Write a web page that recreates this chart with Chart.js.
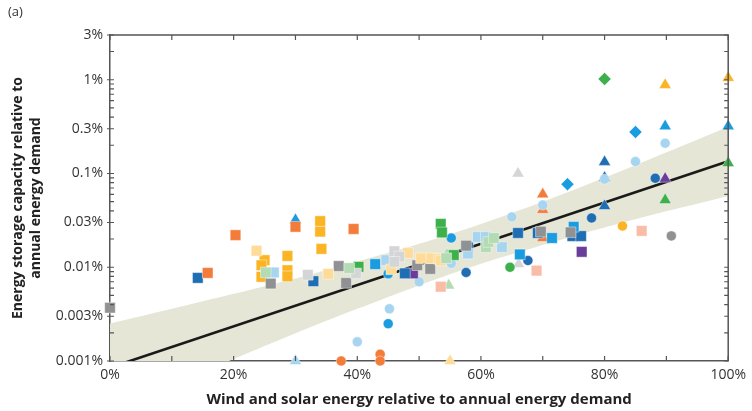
<!DOCTYPE html>
<html lang="en">
<head>
    <meta charset="UTF-8">
    <title>Energy storage vs wind and solar share</title>
    <script src="https://cdn.jsdelivr.net/npm/chart.js@4.4.0/dist/chart.umd.min.js"></script>
    <style>
        html, body { margin: 0; padding: 0; background: #fff; }
        .chart-container { position: relative; width: 752px; height: 411px; }
    </style>
</head>
<body>
    <div class="chart-container">
        <canvas id="storageChart"></canvas>
    </div>

    <script>
        // Axis ticks
        const xTicks = [0, 20, 40, 60, 80, 100];
        const yTicks = [0.001, 0.003, 0.01, 0.03, 0.1, 0.3, 1, 3];

        // Fit line and confidence band (values in %)
        const fitX = [0, 100];
        const fitY = [0.00085, 0.135];
        const bandX = [0, 10, 20, 30, 40, 50, 60, 70, 80, 90, 100];
        const bandUpper = [0.0025, 0.0036, 0.0052, 0.0076, 0.0115, 0.0178, 0.029, 0.050, 0.090, 0.168, 0.316];
        const bandLower = [0.00029, 0.00055, 0.00105, 0.00198, 0.0036, 0.0064, 0.0109, 0.0173, 0.0266, 0.0395, 0.0576];

        // Scatter points: [wind+solar share %, storage capacity %]
        const darkBlueSquares = [[14.2, 0.0077], [32.9, 0.0071], [47.7, 0.0086], [57.9, 0.0164], [66, 0.0232], [69.2, 0.0232], [74.8, 0.0215], [76.2, 0.0215]];
        const darkBlueCircles = [[57.6, 0.0088], [67.6, 0.0118], [77.9, 0.0335], [88.2, 0.089]];
        const darkBlueTriangles = [[80, 0.133], [80, 0.09], [80, 0.045]];
        const medBlueSquares = [[42.9, 0.0108], [66.3, 0.0137], [71.5, 0.0205], [75, 0.027]];
        const medBlueCircles = [[45, 0.0085], [45, 0.0025], [55.2, 0.0205]];
        const medBlueTriangles = [[30, 0.032], [89.8, 0.32], [100, 0.32]];
        const medBlueDiamonds = [[74, 0.077], [85, 0.277]];
        const lightBlueSquares = [[26.5, 0.0088], [44.7, 0.0119], [57.9, 0.014], [59.5, 0.021], [60.8, 0.021], [63.4, 0.0164]];
        const lightBlueCircles = [[40, 0.0016], [45.2, 0.0036], [50, 0.007], [55.2, 0.011], [65, 0.0344], [70, 0.046], [80, 0.087], [85, 0.134], [89.8, 0.21]];
        const lightBlueTriangles = [[30, 0.001]];
        const orangeSquares = [[15.8, 0.0087], [20.3, 0.022], [30, 0.027], [39.4, 0.0256]];
        const orangeCircles = [[37.4, 0.001], [43.7, 0.00118], [43.7, 0.001]];
        const orangeTriangles = [[70, 0.06], [70, 0.041], [70, 0.0205]];
        const goldSquares = [[25, 0.0119], [24.5, 0.0105], [24.5, 0.0079], [28.7, 0.0132], [28.7, 0.0093], [28.7, 0.008], [34, 0.031], [34, 0.024], [34.2, 0.0157]];
        const goldCircles = [[82.9, 0.0275]];
        const goldTriangles = [[89.8, 0.88], [100, 1.05]];
        const lightYellowSquares = [[23.7, 0.015], [35.3, 0.0085], [45.5, 0.0095], [48.2, 0.0142], [50.3, 0.0125], [52, 0.0125], [53.2, 0.0123], [53.5, 0.0118]];
        const lightYellowTriangles = [[55, 0.001]];
        const graySquares = [[0, 0.0037], [26, 0.0067], [37, 0.0103], [38.2, 0.0068], [49.7, 0.0105], [51.8, 0.0096], [57.6, 0.017], [69.7, 0.024], [74.5, 0.0236]];
        const grayCircles = [[90.8, 0.0216]];
        const lightGraySquares = [[32, 0.0083], [39.8, 0.0086], [46, 0.0148], [46.8, 0.013], [46, 0.0114]];
        const lightGrayTriangles = [[66, 0.1], [66.1, 0.0108]];
        const greenSquares = [[40.2, 0.0101], [53.5, 0.029], [53.7, 0.0235], [55.6, 0.0135]];
        const greenCircles = [[64.7, 0.01]];
        const greenTriangles = [[89.8, 0.052], [100, 0.129]];
        const greenDiamonds = [[80, 1.02]];
        const lightGreenSquares = [[25.2, 0.0088], [38.7, 0.0098], [54.4, 0.0125], [60.8, 0.0164], [61.2, 0.0186], [62.1, 0.0205]];
        const lightGreenTriangles = [[54.5, 0.0137], [54.8, 0.0064]];
        const purpleSquares = [[49, 0.0086], [76.3, 0.0146]];
        const purpleTriangles = [[89.8, 0.088]];
        const salmonSquares = [[53.5, 0.0062], [69, 0.0092], [86, 0.0244]];

        // Colours
        const C = {
            darkBlue: '#1f6db3', medBlue: '#1b9ce0', lightBlue: '#a7d5f0',
            orange: '#f47c3a', gold: '#fbb424', lightYellow: '#fedc98',
            gray: '#8f9193', lightGray: '#d4d5d6', green: '#3cb04b',
            lightGreen: '#b3dbb4', purple: '#6a3d9a', salmon: '#f9bca6'
        };

        // series: data, colour, point style
        const series = [
            [lightGreenSquares, C.lightGreen, 'rect'],
            [lightGraySquares, C.lightGray, 'rect'],
            [lightYellowSquares, C.lightYellow, 'rect'],
            [graySquares, C.gray, 'rect'],
            [goldSquares, C.gold, 'rect'],
            [greenSquares, C.green, 'rect'],
            [orangeSquares, C.orange, 'rect'],
            [salmonSquares, C.salmon, 'rect'],
            [lightBlueSquares, C.lightBlue, 'rect'],
            [medBlueSquares, C.medBlue, 'rect'],
            [darkBlueSquares, C.darkBlue, 'rect'],
            [purpleSquares, C.purple, 'rect'],
            [lightBlueCircles, C.lightBlue, 'circle'],
            [medBlueCircles, C.medBlue, 'circle'],
            [darkBlueCircles, C.darkBlue, 'circle'],
            [orangeCircles, C.orange, 'circle'],
            [goldCircles, C.gold, 'circle'],
            [grayCircles, C.gray, 'circle'],
            [greenCircles, C.green, 'circle'],
            [lightGreenTriangles, C.lightGreen, 'triangle'],
            [lightGrayTriangles, C.lightGray, 'triangle'],
            [lightYellowTriangles, C.lightYellow, 'triangle'],
            [lightBlueTriangles, C.lightBlue, 'triangle'],
            [orangeTriangles, C.orange, 'triangle'],
            [medBlueTriangles, C.medBlue, 'triangle'],
            [darkBlueTriangles, C.darkBlue, 'triangle'],
            [goldTriangles, C.gold, 'triangle'],
            [greenTriangles, C.green, 'triangle'],
            [purpleTriangles, C.purple, 'triangle'],
            [medBlueDiamonds, C.medBlue, 'rectRot'],
            [greenDiamonds, C.green, 'rectRot']
        ];

        const radiusFor = { rect: 7.5, circle: 5, triangle: 7, rectRot: 6.5 };

        const toXY = (xs, ys) => xs.map((x, i) => ({ x: x, y: ys[i] }));

        const datasets = [
            {
                type: 'line', label: 'band upper', data: toXY(bandX, bandUpper),
                borderWidth: 0, pointRadius: 0, tension: 0.3,
                backgroundColor: '#e6e6d7', fill: '+1', order: 10
            },
            {
                type: 'line', label: 'band lower', data: toXY(bandX, bandLower),
                borderWidth: 0, pointRadius: 0, tension: 0.3, fill: false, order: 10
            },
            {
                type: 'line', label: 'fit', data: toXY(fitX, fitY),
                borderColor: '#1a1a1a', borderWidth: 2.6, pointRadius: 0, fill: false, order: 9
            }
        ];

        series.forEach(([pts, color, style], i) => {
            datasets.push({
                type: 'scatter',
                label: 's' + i,
                data: pts.map(p => ({ x: p[0], y: p[1] })),
                pointStyle: style,
                pointRadius: radiusFor[style],
                backgroundColor: color,
                borderColor: 'rgba(255,255,255,0.7)',
                borderWidth: 0.6,
                clip: false,
                order: 0
            });
        });

        // inward tick marks, frame and panel label
        const framePlugin = {
            id: 'frame',
            afterDatasetsDraw(chart) {
                const { ctx, chartArea: a, scales } = chart;
                ctx.save();
                ctx.strokeStyle = '#555';
                ctx.lineWidth = 1.5;
                ctx.beginPath();
                ctx.moveTo(a.left, a.top); ctx.lineTo(a.right, a.top); ctx.lineTo(a.right, a.bottom);
                ctx.stroke();

                ctx.lineWidth = 1.2;
                ctx.beginPath();
                for (let v = 0; v <= 100; v += 10) {
                    const px = scales.x.getPixelForValue(v);
                    ctx.moveTo(px, a.bottom); ctx.lineTo(px, a.bottom - 5);
                    ctx.moveTo(px, a.top); ctx.lineTo(px, a.top + 5);
                }
                for (let e = -3; e <= 0; e++) {
                    for (let m = 1; m <= 9; m++) {
                        const v = m * Math.pow(10, e);
                        if (v < 0.001 || v > 3.0001) continue;
                        const py = scales.y.getPixelForValue(v);
                        const major = (m === 1 || m === 3);
                        ctx.moveTo(a.left - (major ? 3 : 0), py); ctx.lineTo(a.left + 4, py);
                        ctx.moveTo(a.right, py); ctx.lineTo(a.right - 4, py);
                    }
                }
                ctx.stroke();

                ctx.fillStyle = '#333';
                ctx.font = '13px "Open Sans", sans-serif';
                ctx.textBaseline = 'middle';
                ctx.fillText('(a)', 8, 12);
                ctx.restore();
            }
        };

        const ctx = document.getElementById('storageChart').getContext('2d');
        new Chart(ctx, {
            type: 'scatter',
            data: { datasets: datasets },
            options: {
                responsive: true,
                maintainAspectRatio: false,
                animation: false,
                layout: { padding: { left: 0, right: 22, top: 35, bottom: 0 } },
                scales: {
                    x: {
                        type: 'linear',
                        min: 0,
                        max: 100,
                        afterBuildTicks: s => { s.ticks = xTicks.map(v => ({ value: v })); },
                        afterFit: s => { s.height = 50; },
                        grid: { display: false, drawTicks: false },
                        border: { display: true, color: '#555', width: 1.5 },
                        ticks: {
                            padding: 6,
                            color: '#333',
                            font: { family: 'Open Sans', size: 14 },
                            callback: v => v + '%'
                        },
                        title: {
                            display: true,
                            text: 'Wind and solar energy relative to annual energy demand',
                            color: '#222',
                            font: { family: 'Open Sans', size: 15, weight: 'bold' },
                            padding: { top: 2, bottom: 2 }
                        }
                    },
                    y: {
                        type: 'logarithmic',
                        min: 0.001,
                        max: 3,
                        afterBuildTicks: s => { s.ticks = yTicks.map(v => ({ value: v })); },
                        afterFit: s => { s.width = 110; },
                        grid: { display: false, drawTicks: false },
                        border: { display: true, color: '#555', width: 1.5 },
                        ticks: {
                            padding: 7,
                            color: '#333',
                            font: { family: 'Open Sans', size: 14 },
                            callback: v => v + '%'
                        },
                        title: {
                            display: true,
                            text: ['Energy storage capacity relative to', 'annual energy demand'],
                            color: '#222',
                            font: { family: 'Open Sans', size: 14, weight: 'bold', lineHeight: 1.3 },
                            padding: { top: 9, bottom: 0 }
                        }
                    }
                },
                plugins: {
                    legend: { display: false },
                    tooltip: { enabled: false }
                }
            },
            plugins: [framePlugin]
        });
    </script>
</body>
</html>
